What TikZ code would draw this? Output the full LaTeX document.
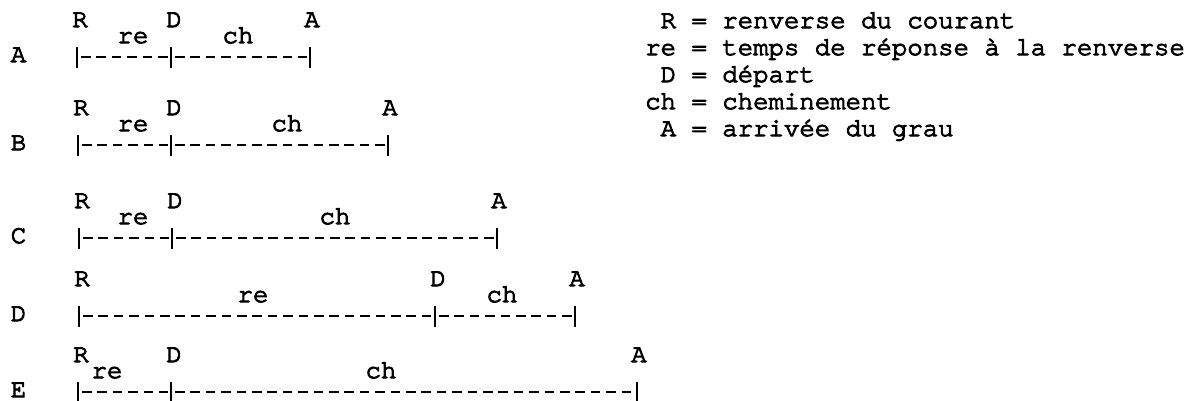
\documentclass[tikz,border=0pt]{standalone}
\usepackage{fontspec}
\setmonofont{texgyrecursor}[Extension=.otf, UprightFont=*-regular, BoldFont=*-bold, FakeBold=4]
\tikzset{
  txt/.style={font=\ttfamily\fontsize{25.7}{26}\selectfont, inner sep=0pt, anchor=base},
  bar/.style={line width=2.2pt},
  dashline/.style={line width=2.6pt, dash pattern=on 9.5pt off 5.9pt},
}
% #1 name, #2 row letter, #3 baseline y, #4 x of R bar, #5 x of D bar, #6 x of A bar, #7 x of re, #8 x of ch
\newcommand{\timeline}[8]{%
  \node[txt] (#1lab) at (18.5,#3) {#2};
  \coordinate (#1R) at (#4,#3-5);
  \coordinate (#1D) at (#5,#3-5);
  \coordinate (#1A) at (#6,#3-5);
  \node[txt] (#1Rt) at (#4+3,#3-35) {R};
  \node[txt] (#1Dt) at (#5+3,#3-35) {D};
  \node[txt] (#1At) at (#6+2,#3-35) {A};
  \node[txt] (#1re) at (#7,#3-19) {re};
  \node[txt] (#1ch) at (#8,#3-19) {ch};
  \draw[bar] ([yshift=10pt]#1R) -- ([yshift=-11pt]#1R);
  \draw[bar] ([yshift=10pt]#1D) -- ([yshift=-11pt]#1D);
  \draw[bar] ([yshift=10pt]#1A) -- ([yshift=-11pt]#1A);
  \draw[dashline] ([xshift=4pt]#1R) -- ([xshift=-3pt]#1D);
  \draw[dashline] ([xshift=4pt]#1D) -- ([xshift=-3pt]#1A);
}
\begin{document}
\begin{tikzpicture}[x=1pt,y=-1pt]
  \fill[white] (0,0) rectangle (1188,400);
  \useasboundingbox (0,0) rectangle (1188,400);
  \timeline{a}{A}{62}{77}{171}{310}{133}{238}
  \timeline{b}{B}{150}{78}{171}{388}{133}{287}
  \timeline{c}{C}{243}{79}{172}{497}{133}{335}
  \timeline{d}{D}{321}{79}{435}{575}{253}{502}
  \timeline{e}{E}{397}{78}{171}{637}{107}{381}
  \node[txt, anchor=base west] (legR)  at (645,28)  {\ R = renverse du courant};
  \node[txt, anchor=base west] (legre) at (645,55)  {re = temps de réponse à la renverse};
  \node[txt, anchor=base west] (legD)  at (645,82)  {\ D = départ};
  \node[txt, anchor=base west] (legch) at (645,109) {ch = cheminement};
  \node[txt, anchor=base west] (legA)  at (645,136) {\ A = arrivée du grau};
\end{tikzpicture}
\end{document}
